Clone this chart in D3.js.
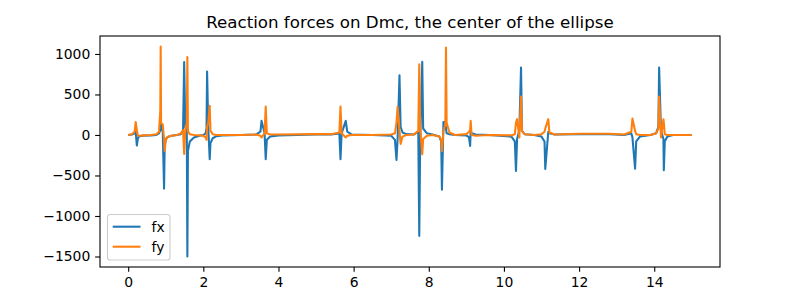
<!DOCTYPE html>
<html>
<head>
<meta charset="utf-8">
<script src="https://cdn.jsdelivr.net/npm/d3@7"></script>
<style>
  html, body { margin: 0; padding: 0; background: #fff; }
  svg { display: block; font-family: "DejaVu Sans", sans-serif; }
</style>
</head>
<body>
<svg id="chart" width="800" height="300"></svg>
<script>
// ---- data ----
const title = "Reaction forces on Dmc, the center of the ellipse";
const seriesNames = ["fx", "fy"];
const t = [
  0.00, 0.10, 0.17, 0.20, 0.23, 0.26, 0.30, 0.40, 0.60, 0.75,
  0.82, 0.855, 0.865, 0.875, 0.92, 0.955, 0.97, 1.00, 1.05, 1.15,
  1.30, 1.40, 1.46, 1.49, 1.52, 1.56, 1.575, 1.59, 1.64, 1.75,
  1.90, 2.00, 2.06, 2.085, 2.10, 2.13, 2.17, 2.19, 2.25, 2.35,
  2.50, 3.00, 3.40, 3.52, 3.55, 3.63, 3.66, 3.69, 3.78, 4.00,
  5.00, 5.40, 5.62, 5.65, 5.68, 5.79, 5.83, 5.95, 6.50, 7.00,
  7.10, 7.14, 7.17, 7.22, 7.25, 7.30, 7.40, 7.60, 7.72, 7.747,
  7.77, 7.826, 7.85, 7.95, 8.10, 8.28, 8.33, 8.35, 8.39, 8.44,
  8.458, 8.475, 8.55, 8.70, 9.00, 9.07, 9.10, 9.115, 9.14, 9.25,
  9.60, 10.20, 10.29, 10.32, 10.35, 10.41, 10.455, 10.48, 10.55, 10.80,
  11.00, 11.08, 11.10, 11.18, 11.21, 11.35, 12.00, 12.80, 13.20, 13.39,
  13.42, 13.49, 13.52, 13.62, 13.90, 14.05, 14.11, 14.13, 14.18, 14.245,
  14.255, 14.28, 14.35, 14.50, 15.00
];
const fx = [
  0, 5, 20, 40, -130, -40, -15, -8, -5, 0,
  20, 60, 150, 100, 40, -662, -150, -50, -25, -10,
  0, 10, 50, 900, 100, 50, -1500, -200, -80, -30,
  -10, 0, 20, 80, 782, 100, -298, -100, -40, -15,
  -5, 0, 5, 40, 174, 20, -299, -60, -20, -5,
  5, 5, 20, -299, 20, 174, 40, 5, 0, -10,
  -60, -307, -50, 737, 100, 30, 10, 5, 40, -1245,
  -100, 902, 80, 20, 5, -20, -80, -677, 160, 160,
  80, 20, 10, 0, -5, -30, -135, 40, 20, 5,
  0, -20, -80, -443, -50, 60, 832, 50, 10, 0,
  -20, -80, -420, 40, 20, 5, 10, 10, 0, 20,
  -30, -415, -80, -20, 0, 20, 100, 832, 50, -50,
  -435, -80, -20, 0, 0
];
const fy = [
  0, 10, 40, 160, 60, -10, -10, -5, 0, 10,
  40, 300, 1092, 150, 130, -50, -196, -60, -25, -10,
  0, 20, 60, -233, 60, 150, 963, 50, 10, 0,
  -5, -10, -30, -60, 100, 150, 359, 50, 10, 0,
  0, 0, 5, -10, -30, 20, 350, 20, 5, 5,
  10, 10, 30, 350, 20, -30, -10, 0, 0, 5,
  20, 150, 347, 50, -110, -20, 0, 5, 50, 873,
  100, -237, -50, -10, 0, -20, -60, -196, 50, 130,
  1078, 150, 30, 0, 10, 40, 60, 174, 0, -10,
  0, -5, 10, 150, 195, -30, 474, 50, 10, 0,
  10, 40, 80, 195, 30, 5, 15, 15, 5, 40,
  203, 50, 10, 0, 0, 20, 80, 474, -30, 195,
  150, 10, 0, 0, 0
];
const xTicks = [0, 2, 4, 6, 8, 10, 12, 14];
const yTicks = [-1500, -1000, -500, 0, 500, 1000];
const colors = ["#1f77b4", "#ff7f0e"];

// ---- layout (matplotlib default 8x3 in @100dpi) ----
const M = { left: 100, right: 720, top: 36, bottom: 267 };
const svg = d3.select("#chart");

const xMin = d3.min(t), xMax = d3.max(t);
const allY = fx.concat(fy);
const yMin = d3.min(allY), yMax = d3.max(allY);
const xPad = (xMax - xMin) * 0.05, yPad = (yMax - yMin) * 0.05;

const x = d3.scaleLinear().domain([xMin - xPad, xMax + xPad]).range([M.left, M.right]);
const y = d3.scaleLinear().domain([yMin - yPad, yMax + yPad]).range([M.bottom, M.top]);

const fmt = v => (v < 0 ? "\u2212" + Math.abs(v) : String(v));

svg.append("defs").append("clipPath").attr("id", "clip")
  .append("rect").attr("x", M.left).attr("y", M.top)
  .attr("width", M.right - M.left).attr("height", M.bottom - M.top);

const series = [fx, fy];
const line = d3.line().x(d => x(d[0])).y(d => y(d[1]));
series.forEach((vals, i) => {
  svg.append("path")
    .datum(t.map((tv, j) => [tv, vals[j]]))
    .attr("d", line)
    .attr("fill", "none")
    .attr("stroke", colors[i])
    .attr("stroke-width", 2.08)
    .attr("stroke-linejoin", "round")
    .attr("stroke-linecap", "butt")
    .attr("clip-path", "url(#clip)");
});

const xAxis = d3.axisBottom(x).tickValues(xTicks).tickSize(4.86).tickPadding(4.86).tickFormat(fmt);
const yAxis = d3.axisLeft(y).tickValues(yTicks).tickSize(4.86).tickPadding(4.86).tickFormat(fmt);

const gx = svg.append("g").attr("transform", `translate(0,${M.bottom})`).call(xAxis);
const gy = svg.append("g").attr("transform", `translate(${M.left},0)`).call(yAxis);
[gx, gy].forEach(g => {
  g.select(".domain").remove();
  g.selectAll(".tick line").attr("stroke", "#000").attr("stroke-width", 1.1);
  g.selectAll(".tick text").attr("fill", "#000")
    .style("font-family", "'DejaVu Sans', sans-serif").style("font-size", "13.9px");
});

svg.append("rect").attr("x", M.left).attr("y", M.top)
  .attr("width", M.right - M.left).attr("height", M.bottom - M.top)
  .attr("fill", "none").attr("stroke", "#000").attr("stroke-width", 1.1);

svg.append("text").attr("x", (M.left + M.right) / 2).attr("y", 28)
  .attr("text-anchor", "middle").attr("fill", "#000")
  .style("font-size", "16.67px").text(title);

const lg = svg.append("g");
lg.append("rect").attr("x", 107.5).attr("y", 214.5).attr("width", 62.5).attr("height", 45.5)
  .attr("rx", 2.8).attr("fill", "#fff").attr("fill-opacity", 0.8)
  .attr("stroke", "#cccccc").attr("stroke-width", 1.1);
seriesNames.forEach((name, i) => {
  const yy = 226.7 + i * 20;
  lg.append("line").attr("x1", 112.7).attr("x2", 140.5).attr("y1", yy).attr("y2", yy)
    .attr("stroke", colors[i]).attr("stroke-width", 2.08);
  lg.append("text").attr("x", 151.5).attr("y", yy + 4.8).attr("fill", "#000")
    .style("font-size", "13.9px").text(name);
});
</script>
</body>
</html>
